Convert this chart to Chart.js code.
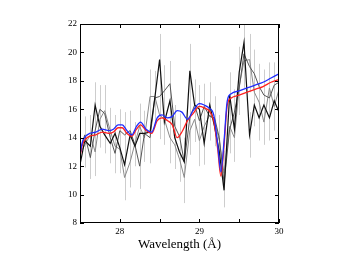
<!DOCTYPE html>
<html>
<head>
<meta charset="utf-8">
<script src="https://cdn.jsdelivr.net/npm/chart.js@4/dist/chart.umd.min.js"></script>
<style>
  html, body { margin: 0; padding: 0; background: #fff; }
</style>
</head>
<body>
<canvas id="spec" width="353" height="273"></canvas>
<script>
// Binned spectrum (wavelength in Å)
const wave = [27.50, 27.56, 27.63, 27.69, 27.75, 27.81, 27.88, 27.94, 28.00, 28.06,
              28.13, 28.19, 28.25, 28.31, 28.38, 28.44, 28.50, 28.56, 28.63, 28.69,
              28.75, 28.81, 28.88, 28.94, 29.00, 29.06, 29.13, 29.19, 29.25, 29.31,
              29.38, 29.44, 29.50, 29.56, 29.63, 29.69, 29.75, 29.81, 29.88, 29.94, 30.00];

const fluxA = [12.1, 13.8, 13.4, 16.3, 14.8, 14.2, 13.6, 14.3, 13.3, 12.1,
               14.2, 13.4, 14.3, 14.3, 14.4, 16.8, 19.5, 15.1, 16.6, 14.0,
               13.0, 12.3, 18.7, 16.3, 16.0, 13.6, 16.3, 14.8, 13.0, 10.3,
               17.0, 14.6, 18.6, 20.7, 14.2, 16.3, 15.4, 16.3, 15.4, 16.6, 15.8];
const fluxB = [13.0, 14.2, 12.6, 14.5, 16.0, 15.7, 14.0, 12.9, 14.5, 14.2,
               14.5, 13.5, 12.0, 14.3, 14.0, 16.8, 16.9, 17.3, 17.8, 14.8,
               14.1, 12.3, 15.4, 16.3, 15.2, 16.2, 15.5, 15.4, 14.0, 10.8,
               14.6, 15.8, 17.5, 19.9, 19.0, 18.5, 17.6, 17.0, 16.8, 17.7, 17.9];
const fluxC = [12.9, 13.5, 14.2, 13.0, 15.3, 15.9, 14.5, 13.4, 13.2, 11.2,
               12.3, 13.6, 14.8, 14.0, 16.9, 16.9, 15.6, 15.3, 14.0, 13.5,
               12.5, 11.2, 14.5, 15.3, 13.8, 14.8, 15.6, 15.2, 13.8, 11.5,
               14.8, 14.0, 17.6, 19.4, 19.5, 17.2, 16.5, 15.1, 17.5, 16.2, 17.4];

// 1-sigma errors
const errA = [1.2, 1.4, 1.3, 1.6, 1.5, 1.3, 1.4, 1.3, 1.2, 1.3,
              1.5, 1.4, 1.3, 1.6, 1.5, 1.9, 1.8, 1.6, 1.7, 1.4,
              1.5, 1.4, 1.9, 1.6, 1.7, 1.5, 1.6, 1.4, 1.3, 1.2,
              1.6, 1.5, 1.8, 1.9, 1.6, 1.5, 1.6, 1.5, 1.6, 1.5, 1.6];
const errB = [1.4, 1.3, 1.5, 1.4, 1.7, 1.6, 1.5, 1.4, 1.5, 1.6,
              1.4, 1.5, 1.6, 1.5, 1.8, 1.7, 1.9, 1.8, 1.6, 1.5,
              1.6, 1.7, 1.6, 1.8, 1.5, 1.6, 1.7, 1.5, 1.6, 1.4,
              1.7, 1.6, 1.9, 2.0, 1.8, 1.7, 1.6, 1.8, 1.7, 1.6, 1.7];
const errC = [1.5, 1.6, 1.4, 1.7, 1.5, 1.8, 1.6, 1.5, 1.7, 1.6,
              1.8, 1.5, 1.6, 1.7, 1.9, 1.8, 1.7, 1.6, 1.8, 1.7,
              1.6, 1.8, 1.7, 1.6, 1.8, 1.7, 1.6, 1.7, 1.5, 1.6,
              1.8, 1.7, 2.0, 1.9, 1.8, 1.7, 1.9, 1.6, 1.8, 1.7, 1.8];

// Model curves
const modelWave = [27.50, 27.53, 27.57, 27.62, 27.70, 27.78, 27.86, 27.92, 27.98, 28.03,
                   28.09, 28.15, 28.21, 28.26, 28.33, 28.40, 28.47, 28.53, 28.60, 28.66,
                   28.72, 28.78, 28.85, 28.92, 29.00, 29.06, 29.12, 29.18, 29.23, 29.27,
                   29.31, 29.35, 29.40, 29.50, 29.60, 29.70, 29.80, 29.90, 30.00];
const modelBlue = [12.8, 13.7, 14.1, 14.3, 14.4, 14.6, 14.5, 14.6, 14.9, 14.9,
                   14.5, 14.2, 14.8, 15.1, 14.6, 14.4, 15.4, 15.6, 15.4, 15.5,
                   15.9, 15.8, 15.3, 15.9, 16.4, 16.3, 16.1, 15.6, 13.5, 11.6,
                   13.8, 16.6, 17.1, 17.3, 17.5, 17.7, 17.9, 18.2, 18.5];
const modelRed = [12.7, 13.5, 13.9, 14.1, 14.2, 14.4, 14.3, 14.4, 14.7, 14.7,
                  14.3, 14.1, 14.6, 14.9, 14.5, 14.3, 15.2, 15.4, 15.2, 14.9,
                  14.0, 14.4, 15.2, 15.7, 16.2, 16.1, 15.9, 15.2, 13.2, 11.3,
                  13.5, 16.3, 16.8, 17.0, 17.2, 17.4, 17.6, 17.9, 18.1];

const xTicks = [28, 29, 30];
const yTicks = [8, 10, 12, 14, 16, 18, 20, 22];

const pts = (xs, ys) => xs.map((x, i) => ({ x: x, y: ys[i] }));

// Error bars drawn behind the lines
const errorBars = {
  id: 'errorBars',
  beforeDatasetsDraw(chart) {
    const { ctx, scales: { x, y }, chartArea } = chart;
    ctx.save();
    ctx.beginPath();
    ctx.rect(chartArea.left, chartArea.top, chartArea.width, chartArea.height);
    ctx.clip();
    ctx.strokeStyle = '#cdcdcd';
    ctx.lineWidth = 1;
    [[fluxC, errC], [fluxB, errB], [fluxA, errA]].forEach(([f, e]) => {
      wave.forEach((w, i) => {
        const px = Math.round(x.getPixelForValue(w)) + 0.5;
        ctx.beginPath();
        ctx.moveTo(px, y.getPixelForValue(f[i] - e[i]));
        ctx.lineTo(px, y.getPixelForValue(f[i] + e[i]));
        ctx.stroke();
      });
    });
    ctx.restore();
  }
};

// Frame with inward ticks on all four sides
const frame = {
  id: 'frame',
  afterDraw(chart) {
    const { ctx, scales: { x, y }, chartArea: a } = chart;
    ctx.save();
    ctx.strokeStyle = '#000';
    ctx.lineWidth = 1;
    ctx.strokeRect(a.left + 0.5, a.top + 0.5, a.width - 1, a.height - 1);
    ctx.beginPath();
    x.ticks.forEach(t => {
      const px = Math.round(x.getPixelForValue(t.value)) + 0.5;
      ctx.moveTo(px, a.bottom); ctx.lineTo(px, a.bottom - 4);
      ctx.moveTo(px, a.top); ctx.lineTo(px, a.top + 4);
    });
    y.ticks.forEach(t => {
      const py = Math.round(y.getPixelForValue(t.value)) + 0.5;
      ctx.moveTo(a.left, py); ctx.lineTo(a.left + 4, py);
      ctx.moveTo(a.right, py); ctx.lineTo(a.right - 4, py);
    });
    ctx.stroke();
    ctx.restore();
  }
};

const serif = 'Liberation Serif';

new Chart(document.getElementById('spec'), {
  type: 'line',
  data: {
    datasets: [
      { data: pts(modelWave, modelBlue), borderColor: '#1f2cff', borderWidth: 1.3, cubicInterpolationMode: 'monotone' },
      { data: pts(modelWave, modelRed), borderColor: '#ff2020', borderWidth: 1.3, cubicInterpolationMode: 'monotone' },
      { data: pts(wave, fluxA), borderColor: '#111', borderWidth: 1.2 },
      { data: pts(wave, fluxB), borderColor: '#555', borderWidth: 1 },
      { data: pts(wave, fluxC), borderColor: '#8a8a8a', borderWidth: 1 }
    ]
  },
  options: {
    responsive: false,
    animation: false,
    events: [],
    elements: { point: { radius: 0 }, line: { tension: 0, fill: false } },
    layout: { padding: { left: 0, right: 74, top: 24, bottom: 20 } },
    plugins: { legend: { display: false }, tooltip: { enabled: false } },
    scales: {
      x: {
        type: 'linear',
        min: 27.5, max: 30,
        afterFit: s => { s.height = 30; },
        grid: { display: false, drawTicks: false },
        border: { display: false },
        ticks: {
          stepSize: 0.5, autoSkip: false, maxRotation: 0, padding: 3,
          color: '#000', font: { family: serif, size: 9 },
          callback: v => xTicks.includes(v) ? String(v) : ''
        },
        title: {
          display: true, text: 'Wavelength (Å)', color: '#000',
          font: { family: serif, size: 13 }, padding: { top: 0, bottom: 1 }
        }
      },
      y: {
        min: 8, max: 22,
        afterFit: s => { s.width = 80; },
        grid: { display: false, drawTicks: false },
        border: { display: false },
        ticks: {
          stepSize: 2, padding: 3, color: '#000',
          font: { family: serif, size: 9 },
          callback: v => yTicks.includes(v) ? String(v) : ''
        }
      }
    }
  },
  plugins: [errorBars, frame]
});
</script>
</body>
</html>
